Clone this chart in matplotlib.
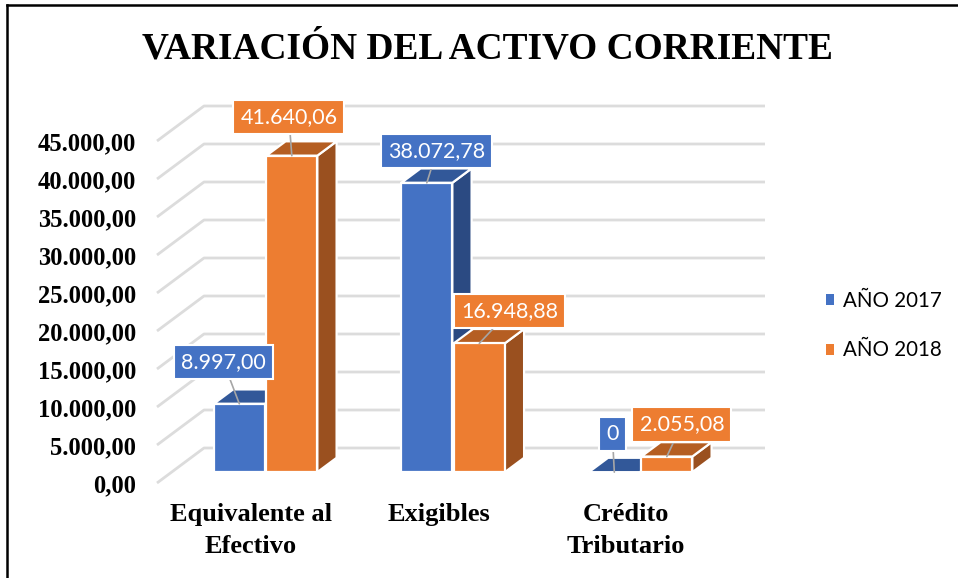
import matplotlib
matplotlib.use("Agg")
import matplotlib.pyplot as plt
from matplotlib.patches import Polygon, Patch
from matplotlib.lines import Line2D

categories = ["Equivalente al\nEfectivo", "Exigibles", "Crédito\nTributario"]
anio_2017 = [8997.00, 38072.78, 0]
anio_2018 = [41640.06, 16948.88, 2055.08]
labels_2017 = ["8.997,00", "38.072,78", "0"]
labels_2018 = ["41.640,06", "16.948,88", "2.055,08"]
y_ticks = [0, 5000, 10000, 15000, 20000, 25000, 30000, 35000, 40000, 45000]
y_tick_labels = ["0,00", "5.000,00", "10.000,00", "15.000,00", "20.000,00",
                 "25.000,00", "30.000,00", "35.000,00", "40.000,00", "45.000,00"]

W, H = 958, 578
BLUE, ORANGE = "#4472C4", "#ED7D31"
BLUE_SIDE, BLUE_TOP = "#2B4A82", "#325899"
OR_SIDE, OR_TOP = "#9A501F", "#B55E22"
SERIF = "Liberation Serif"
SANS = "Lato"

fig = plt.figure(figsize=(W / 100, H / 100), dpi=100, facecolor="white")
L, R, T, B = 157, 765, 90, 483
ax = fig.add_axes([L / W, 1 - B / H, (R - L) / W, (B - T) / H])
PX_PER_CAT = 187.5
PX_PER_VAL = 38 / 5000
CENTER0 = 251
ax.set_xlim((L - CENTER0) / PX_PER_CAT, (R - CENTER0) / PX_PER_CAT)
ax.set_ylim(0, (B - T) / PX_PER_VAL)
ax.patch.set_alpha(0)
for s in ax.spines.values():
    s.set_visible(False)

DX = 47 / PX_PER_CAT
DV = 35 / PX_PER_VAL


def proj(x, v, d):
    return (x + d * DX, v + d * DV)


x_left, x_right = ax.get_xlim()
for v in y_ticks:
    a = (x_left, v)
    b = proj(x_left, v, 1)
    c = (x_right, b[1])
    ax.plot([a[0], b[0], c[0]], [a[1], b[1], c[1]], color="#DCDCDC", lw=2.0,
            solid_joinstyle="round", solid_capstyle="butt", zorder=1, clip_on=False)

D0, D1 = 0.31, 0.72
BW = 51 / PX_PER_CAT
GAP = 1.5 / PX_PER_CAT


def bar3d(x0, val, front, side, top, z):
    x1 = x0 + BW
    edge = dict(edgecolor="white", linewidth=1.6, joinstyle="round", clip_on=False, zorder=z)
    if val > 0:
        ax.add_patch(Polygon([proj(x1, 0, D0), proj(x1, 0, D1), proj(x1, val, D1), proj(x1, val, D0)],
                             facecolor=side, **edge))
    ax.add_patch(Polygon([proj(x0, val, D0), proj(x1, val, D0), proj(x1, val, D1), proj(x0, val, D1)],
                         facecolor=top, **edge))
    if val > 0:
        ax.add_patch(Polygon([proj(x0, 0, D0), proj(x1, 0, D0), proj(x1, val, D0), proj(x0, val, D0)],
                             facecolor=front, **edge))


def label(x0, val, text, color, off):
    xy = proj(x0 + BW / 2, val, D0)
    ax.annotate(text, xy=xy, xytext=(off[0] * 0.72, off[1] * 0.72), textcoords="offset points",
                ha="center", va="center", color="white", fontsize=15.5, family=SANS,
                bbox=dict(boxstyle="square,pad=0.33", facecolor=color, edgecolor="white", linewidth=1.5),
                arrowprops=dict(arrowstyle="-", color="#A6A6A6", lw=1.2, shrinkA=0, shrinkB=0),
                zorder=50, annotation_clip=False)


off_2017 = [(-16, 42), (10, 32), (-2, 38)]
off_2018 = [(-3, 39), (30, 32), (15, 32)]

z = 10
for i in range(len(categories)):
    bar3d(i - BW - GAP / 2, anio_2017[i], BLUE, BLUE_SIDE, BLUE_TOP, z)
    bar3d(i + GAP / 2, anio_2018[i], ORANGE, OR_SIDE, OR_TOP, z + 1)
    z += 2
for i in range(len(categories)):
    label(i - BW - GAP / 2, anio_2017[i], labels_2017[i], BLUE, off_2017[i])
    label(i + GAP / 2, anio_2018[i], labels_2018[i], ORANGE, off_2018[i])

ax.set_yticks(y_ticks)
ax.set_yticklabels(y_tick_labels, fontsize=17.7, fontweight="bold", family=SERIF)
ax.tick_params(axis="y", length=0, pad=15)
ax.set_xticks(range(len(categories)))
ax.set_xticklabels(categories, fontsize=19, fontweight="bold", family=SERIF, linespacing=1.5, va="top")
ax.tick_params(axis="x", length=0, pad=14.5)

fig.text(487 / W, 1 - 49 / H, "VARIACIÓN DEL ACTIVO CORRIENTE", ha="center", va="center",
         fontsize=26.9, fontweight="bold", family=SERIF)

handles = [Patch(facecolor=BLUE, edgecolor="none"), Patch(facecolor=ORANGE, edgecolor="none")]
fig.legend(handles, ["AÑO 2017", "AÑO 2018"], loc="center left",
           bbox_to_anchor=(807 / W, 1 - 325.5 / H), frameon=False,
           prop=dict(family=SANS, size=14.8), handlelength=0.43, handleheight=0.45,
           handletextpad=0.4, labelspacing=1.45)

# picture frame
for xs, ys in [((7, 7), (5, 578)), ((7, 958), (5, 5))]:
    fig.add_artist(Line2D([x / W for x in xs], [1 - y / H for y in ys], color="black", lw=1.8))

fig.savefig("out.png", dpi=100)
